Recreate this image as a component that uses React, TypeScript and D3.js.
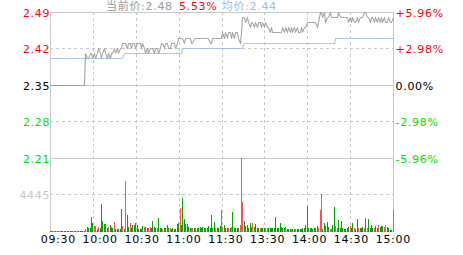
import React from "react";
import * as d3 from "d3";

// ---------- data ----------
const prevClose = 2.35;
const priceTicks = [2.49, 2.42, 2.35, 2.28, 2.21];
const solidPriceTicks = [2.49, 2.35, 2.21];
const volTick = 4445;
const volMax = 8890;
const timeLabels = ["09:30", "10:00", "10:30", "11:00", "11:30", "13:30", "14:00", "14:30", "15:00"];
const gridMinutes = [0, 30, 60, 90, 120, 150, 180, 210, 240];

const prices = [
  2.35, 2.35, 2.35, 2.35, 2.35, 2.35, 2.35, 2.35, 2.35, 2.35,
  2.35, 2.35, 2.35, 2.35, 2.35, 2.35, 2.35, 2.35, 2.35, 2.35,
  2.35, 2.35, 2.35, 2.35, 2.35, 2.41, 2.40, 2.40, 2.41, 2.41,
  2.40, 2.41, 2.40, 2.41, 2.42, 2.41, 2.40, 2.41, 2.42, 2.41,
  2.40, 2.41, 2.40, 2.41, 2.41, 2.42, 2.41, 2.42, 2.41, 2.42,
  2.42, 2.43, 2.43, 2.43, 2.42, 2.43, 2.43, 2.42, 2.43, 2.43,
  2.42, 2.43, 2.43, 2.43, 2.42, 2.43, 2.42, 2.41, 2.42, 2.41,
  2.42, 2.42, 2.42, 2.41, 2.42, 2.42, 2.41, 2.42, 2.43, 2.43,
  2.42, 2.43, 2.43, 2.42, 2.42, 2.43, 2.43, 2.43, 2.42, 2.43,
  2.44, 2.44, 2.44, 2.44, 2.43, 2.44, 2.44, 2.44, 2.44, 2.43,
  2.43, 2.44, 2.44, 2.44, 2.44, 2.44, 2.44, 2.44, 2.44, 2.44,
  2.44, 2.44, 2.43, 2.43, 2.44, 2.44, 2.44, 2.44, 2.44, 2.44,
  2.44, 2.45, 2.44, 2.45, 2.44, 2.45, 2.45, 2.44, 2.45, 2.44,
  2.45, 2.45, 2.44, 2.43, 2.45, 2.48, 2.48, 2.47, 2.48, 2.47,
  2.46, 2.47, 2.47, 2.46, 2.47, 2.46, 2.47, 2.47, 2.46, 2.47,
  2.46, 2.47, 2.46, 2.46, 2.45, 2.46, 2.45, 2.45, 2.45, 2.45,
  2.45, 2.45, 2.45, 2.46, 2.45, 2.46, 2.45, 2.46, 2.45, 2.46,
  2.45, 2.46, 2.45, 2.46, 2.45, 2.45, 2.46, 2.45, 2.46, 2.46,
  2.47, 2.47, 2.47, 2.47, 2.47, 2.47, 2.47, 2.46, 2.47, 2.49,
  2.49, 2.48, 2.49, 2.47, 2.48, 2.48, 2.49, 2.48, 2.48, 2.48,
  2.48, 2.48, 2.49, 2.48, 2.48, 2.48, 2.48, 2.48, 2.48, 2.47,
  2.48, 2.47, 2.48, 2.47, 2.47, 2.48, 2.47, 2.48, 2.48, 2.48,
  2.49, 2.49, 2.48, 2.48, 2.47, 2.48, 2.48, 2.47, 2.48, 2.47,
  2.48, 2.47, 2.48, 2.47, 2.48, 2.47, 2.47, 2.48, 2.47, 2.47,
  2.48,
];

const avgPrices = [
  2.40, 2.40, 2.40, 2.40, 2.40, 2.40, 2.40, 2.40, 2.40, 2.40,
  2.40, 2.40, 2.40, 2.40, 2.40, 2.40, 2.40, 2.40, 2.40, 2.40,
  2.40, 2.40, 2.40, 2.40, 2.40, 2.40, 2.40, 2.40, 2.40, 2.40,
  2.40, 2.40, 2.40, 2.40, 2.40, 2.40, 2.40, 2.40, 2.40, 2.40,
  2.40, 2.40, 2.40, 2.40, 2.40, 2.40, 2.40, 2.40, 2.40, 2.40,
  2.40, 2.40, 2.41, 2.41, 2.41, 2.41, 2.41, 2.41, 2.41, 2.41,
  2.41, 2.41, 2.41, 2.41, 2.41, 2.41, 2.41, 2.41, 2.41, 2.41,
  2.41, 2.41, 2.41, 2.41, 2.41, 2.41, 2.41, 2.41, 2.41, 2.41,
  2.41, 2.41, 2.41, 2.41, 2.41, 2.41, 2.41, 2.41, 2.41, 2.41,
  2.41, 2.41, 2.41, 2.42, 2.42, 2.42, 2.42, 2.42, 2.42, 2.42,
  2.42, 2.42, 2.42, 2.42, 2.42, 2.42, 2.42, 2.42, 2.42, 2.42,
  2.42, 2.42, 2.42, 2.42, 2.42, 2.42, 2.42, 2.42, 2.42, 2.42,
  2.42, 2.42, 2.42, 2.42, 2.42, 2.42, 2.42, 2.42, 2.42, 2.42,
  2.42, 2.42, 2.42, 2.42, 2.42, 2.42, 2.43, 2.43, 2.43, 2.43,
  2.43, 2.43, 2.43, 2.43, 2.43, 2.43, 2.43, 2.43, 2.43, 2.43,
  2.43, 2.43, 2.43, 2.43, 2.43, 2.43, 2.43, 2.43, 2.43, 2.43,
  2.43, 2.43, 2.43, 2.43, 2.43, 2.43, 2.43, 2.43, 2.43, 2.43,
  2.43, 2.43, 2.43, 2.43, 2.43, 2.43, 2.43, 2.43, 2.43, 2.43,
  2.43, 2.43, 2.43, 2.43, 2.43, 2.43, 2.43, 2.43, 2.43, 2.43,
  2.43, 2.43, 2.43, 2.43, 2.43, 2.43, 2.43, 2.43, 2.43, 2.43,
  2.44, 2.44, 2.44, 2.44, 2.44, 2.44, 2.44, 2.44, 2.44, 2.44,
  2.44, 2.44, 2.44, 2.44, 2.44, 2.44, 2.44, 2.44, 2.44, 2.44,
  2.44, 2.44, 2.44, 2.44, 2.44, 2.44, 2.44, 2.44, 2.44, 2.44,
  2.44, 2.44, 2.44, 2.44, 2.44, 2.44, 2.44, 2.44, 2.44, 2.44,
  2.44,
];

const volumes = [
  0, 0, 0, 0, 0, 0, 0, 0, 0, 0,
  0, 0, 0, 0, 0, 0, 0, 0, 0, 0,
  0, 0, 0, 0, 0, 180, 370, 250, 300, 1650,
  970, 560, 560, 200, 400, 250, 3170, 1170, 800, 850,
  280, 400, 730, 400, 280, 1060, 200, 200, 200, 200,
  2560, 490, 200, 6050, 1910, 400, 940, 280, 730, 730,
  970, 610, 200, 200, 200, 570, 400, 400, 250, 330,
  400, 250, 1180, 400, 280, 330, 1580, 330, 330, 200,
  280, 250, 670, 280, 250, 200, 280, 200, 200, 850,
  970, 2700, 730, 3900, 1420, 800, 800, 400, 280, 250,
  250, 250, 250, 250, 250, 370, 250, 400, 250, 250,
  250, 570, 250, 1830, 250, 1060, 250, 250, 250, 570,
  2440, 400, 730, 250, 250, 250, 250, 400, 2280, 250,
  250, 250, 250, 730, 8890, 3530, 1100, 490, 610, 250,
  940, 400, 940, 400, 820, 330, 250, 250, 250, 250,
  250, 250, 330, 280, 330, 280, 330, 250, 1700, 250,
  250, 940, 400, 330, 280, 430, 200, 200, 200, 200,
  200, 200, 200, 200, 200, 200, 200, 330, 330, 690,
  3000, 280, 330, 330, 200, 330, 330, 570, 330, 2520,
  4470, 200, 940, 490, 1010, 400, 200, 200, 610, 2920,
  500, 280, 1220, 330, 1100, 280, 200, 200, 280, 400,
  490, 250, 940, 330, 200, 1340, 280, 280, 280, 400,
  330, 1550, 280, 1460, 330, 610, 330, 280, 490, 250,
  690, 400, 490, 520, 400, 690, 400, 280, 120, 120,
  2520,
];

// minutes whose volume bar is red (price up)
const upMinutes = [
  25, 31, 32, 34, 41, 45, 51, 53, 56, 66, 69, 70, 75, 79, 84, 91, 99, 100,
  116, 120, 121, 125, 127, 133, 134, 135, 142, 147, 151, 152, 165, 169, 172,
  188, 189, 190, 196, 197, 200, 210, 213, 216, 220, 222, 227, 230, 234, 235, 240,
];

// ---------- chart ----------
const FONT = "'DejaVu Sans', 'Noto Sans CJK SC', sans-serif";
const GRID = "#c8c8c8";
const RED = "#ff0000";
const GREEN = "#00dd00";

export default function App() {
  const W = 463;
  const H = 255;
  const left = 50;
  const right = 393;
  const top = 12;
  const mid = 158;
  const bottom = 231;

  const x = d3.scaleLinear().domain([0, 240]).range([left, right]);
  const y = d3.scaleLinear().domain([2.21, 2.49]).range([mid, top]);
  const yv = d3.scaleLinear().domain([0, volMax]).range([bottom, mid]);
  const tx = d3.scalePoint<string>().domain(timeLabels).range([58.3, 393.3]);

  const snap = (v: number) => Math.floor(v) + 0.5;
  const gx = (m: number) => Math.round(x(m)) + 0.5;

  const priceLine = d3
    .line<number>()
    .x((_, i) => snap(x(i)))
    .y((d) => snap(y(d)));

  const upSet = new Set(upMinutes);
  const fmtPct = (p: number) => {
    const r = ((p - prevClose) / prevClose) * 100;
    const s = Math.abs(r) < 0.005 ? "0.00" : r.toFixed(2);
    return (r > 0.005 ? "+" : "") + s + "%";
  };
  const labelColor = (p: number) =>
    Math.abs(p - prevClose) < 1e-9 ? "#000" : p > prevClose ? RED : GREEN;

  const last = prices[prices.length - 1];
  const lastAvg = avgPrices[avgPrices.length - 1];
  const lastPct = (((last - prevClose) / prevClose) * 100).toFixed(2) + "%";

  return (
    <svg
      width={W}
      height={H}
      style={{ position: "absolute", left: 0, top: 0, background: "#fff" }}
      fontFamily={FONT}
      fontSize={11}
      letterSpacing={0.7}
    >
      <rect x={0} y={0} width={W} height={H} fill="#fff" />

      {/* horizontal price grid */}
      {priceTicks.map((p) => (
        <line
          key={"h" + p}
          x1={left}
          x2={right}
          y1={snap(y(p))}
          y2={snap(y(p))}
          stroke={GRID}
          strokeWidth={1}
          strokeDasharray={solidPriceTicks.includes(p) ? undefined : "3,3"}
          shapeRendering="crispEdges"
        />
      ))}
      {/* volume mid grid */}
      <line
        x1={left}
        x2={right}
        y1={snap(yv(volTick))}
        y2={snap(yv(volTick))}
        stroke={GRID}
        strokeDasharray="3,3"
        shapeRendering="crispEdges"
      />
      <line
        x1={left}
        x2={right + 1}
        y1={snap(yv(0))}
        y2={snap(yv(0))}
        stroke={GRID}
        shapeRendering="crispEdges"
      />

      {/* vertical grid */}
      {gridMinutes.map((m, i) => {
        const edge = i === 0 || i === gridMinutes.length - 1;
        return (
          <line
            key={"v" + m}
            x1={gx(m)}
            x2={gx(m)}
            y1={top}
            y2={bottom + 1}
            stroke={GRID}
            strokeDasharray={edge ? undefined : "3,3"}
            shapeRendering="crispEdges"
          />
        );
      })}

      {/* volume bars */}
      {volumes.map((v, i) => {
        const yTop = Math.floor(yv(v));
        const h = Math.max(1, bottom + 1 - yTop);
        return (
          <rect
            key={"b" + i}
            x={Math.floor(x(i))}
            y={bottom + 1 - h}
            width={1}
            height={h}
            fill={upSet.has(i) ? "#ff5050" : "#00a800"}
            shapeRendering="crispEdges"
          />
        );
      })}

      {/* average line */}
      <path
        d={priceLine(avgPrices) || ""}
        fill="none"
        stroke="#99bbee"
        strokeWidth={1}
      />
      {/* price line */}
      <path
        d={priceLine(prices) || ""}
        fill="none"
        stroke="#999999"
        strokeWidth={1}
      />

      {/* left price labels */}
      {priceTicks.map((p) => (
        <text
          key={"l" + p}
          x={left + 0.2}
          y={Math.floor(y(p)) + 4.5}
          textAnchor="end"
          fill={labelColor(p)}
        >
          {p.toFixed(2)}
        </text>
      ))}
      <text x={left + 0.2} y={Math.floor(yv(volTick)) + 4.5} textAnchor="end" fill="#c8c8c8">
        {volTick}
      </text>

      {/* right percent labels */}
      {priceTicks.map((p) => (
        <text key={"r" + p} x={395.5} y={Math.floor(y(p)) + 4.5} fill={labelColor(p)}>
          {fmtPct(p)}
        </text>
      ))}

      {/* time labels */}
      {timeLabels.map((t) => (
        <text key={t} x={tx(t)} y={243} textAnchor="middle" fill="#000">
          {t}
        </text>
      ))}

      {/* title */}
      <text x={106} y={9.5} fill="#999999">
        {"当前价:" + last.toFixed(2)}
      </text>
      <text x={179} y={9.5} fill={RED}>
        {lastPct}
      </text>
      <text x={221.7} y={9.5} fill="#99bbee">
        {"均价:" + lastAvg.toFixed(2)}
      </text>
    </svg>
  );
}
